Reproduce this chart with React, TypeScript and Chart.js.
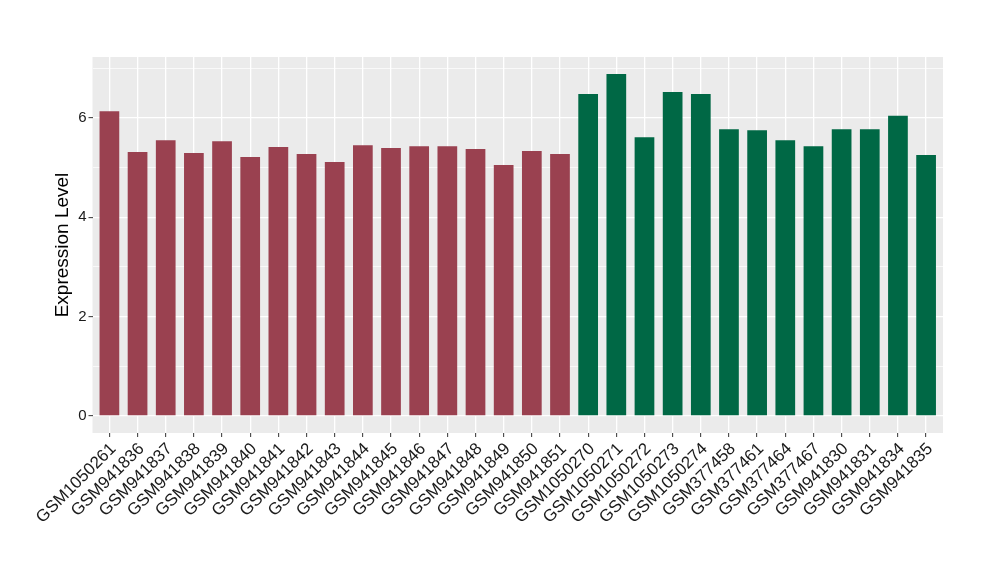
import React, { useEffect, useRef } from "react";
import { Chart, registerables } from "chart.js";

Chart.register(...registerables);

const samples = [
  "GSM1050261", "GSM941836", "GSM941837", "GSM941838", "GSM941839", "GSM941840",
  "GSM941841", "GSM941842", "GSM941843", "GSM941844", "GSM941845", "GSM941846",
  "GSM941847", "GSM941848", "GSM941849", "GSM941850", "GSM941851",
  "GSM1050270", "GSM1050271", "GSM1050272", "GSM1050273", "GSM1050274",
  "GSM377458", "GSM377461", "GSM377464", "GSM377467", "GSM941830", "GSM941831",
  "GSM941834", "GSM941835",
];

const expression = [
  6.13, 5.31, 5.55, 5.29, 5.53, 5.21, 5.41, 5.27, 5.11, 5.45, 5.39, 5.43, 5.43,
  5.37, 5.05, 5.33, 5.27,
  6.48, 6.88, 5.61, 6.52, 6.48, 5.77, 5.75, 5.55, 5.43, 5.77, 5.77, 6.04, 5.25,
];

const groups = [
  "A", "A", "A", "A", "A", "A", "A", "A", "A", "A", "A", "A", "A", "A", "A", "A", "A",
  "B", "B", "B", "B", "B", "B", "B", "B", "B", "B", "B", "B", "B",
];

const groupColors: Record<string, string> = { A: "#9A4150", B: "#006845" };

const yTicks = [0, 1, 2, 3, 4, 5, 6, 7];

export default function App() {
  const ref = useRef<HTMLCanvasElement | null>(null);

  useEffect(() => {
    document.body.style.margin = "0";
    const canvas = ref.current;
    if (!canvas) return;

    const panelBg = {
      id: "panelBg",
      beforeDraw(chart: any) {
        const { ctx, chartArea } = chart;
        ctx.save();
        ctx.fillStyle = "#EBEBEB";
        ctx.fillRect(chartArea.left, chartArea.top, chartArea.right - chartArea.left, chartArea.bottom - chartArea.top);
        ctx.restore();
      },
    };

    const chart = new Chart(canvas, {
      type: "bar",
      data: {
        datasets: [
          {
            data: expression.map((v, i) => ({ x: i, y: v })),
            backgroundColor: groups.map((g) => groupColors[g]),
            borderWidth: 0,
            barPercentage: 0.7,
            categoryPercentage: 1,
          },
        ],
      },
      plugins: [panelBg],
      options: {
        animation: false,
        responsive: false,
        layout: { padding: { left: 0, top: 57, right: 57, bottom: 0 } },
        plugins: { legend: { display: false }, tooltip: { enabled: false } },
        scales: {
          x: {
            type: "linear",
            offset: false,
            min: -0.6,
            max: samples.length - 0.4,
            afterBuildTicks: (scale: any) => {
              scale.ticks = samples.map((_, i) => ({ value: i }));
            },
            afterFit: (scale: any) => {
              scale.height = 147;
            },
            border: { display: false },
            grid: {
              offset: false,
              color: "#FFFFFF",
              lineWidth: 1.3,
              tickColor: "#333333",
              tickLength: 4,
              tickWidth: 1,
            },
            ticks: {
              autoSkip: false,
              maxRotation: 45,
              minRotation: 45,
              padding: 2,
              labelOffset: 4,
              color: "#1A1A1A",
              font: { family: "'Liberation Sans', Arial, sans-serif", size: 17 },
              callback: (v: any) => samples[v as number] ?? "",
            },
          },
          y: {
            type: "linear",
            min: -0.344,
            max: 7.224,
            afterBuildTicks: (scale: any) => {
              scale.ticks = yTicks.map((v) => ({ value: v }));
            },
            afterFit: (scale: any) => {
              scale.width = 92.5;
            },
            border: { display: false },
            grid: {
              color: "#FFFFFF",
              lineWidth: (c: any) => (c.tick && c.tick.value % 2 === 0 ? 1.3 : 0.7),
              tickColor: (c: any) => (c.tick && c.tick.value % 2 === 0 ? "#333333" : "rgba(0,0,0,0)"),
              tickLength: 4,
              tickWidth: 1,
            },
            ticks: {
              padding: 2,
              color: "#1A1A1A",
              font: { family: "'Liberation Sans', Arial, sans-serif", size: 15 },
              callback: (v: any) => (Number(v) % 2 === 0 ? String(v) : ""),
            },
            title: {
              display: true,
              text: "Expression Level",
              color: "#000000",
              padding: { top: 51, bottom: 0 },
              font: { family: "'Liberation Sans', Arial, sans-serif", size: 19 },
            },
          },
        },
      },
    } as any);

    return () => chart.destroy();
  }, []);

  return (
    <div style={{ width: 1000, height: 580, background: "#FFFFFF" }}>
      <canvas ref={ref} width={1000} height={580} style={{ display: "block" }} />
    </div>
  );
}
